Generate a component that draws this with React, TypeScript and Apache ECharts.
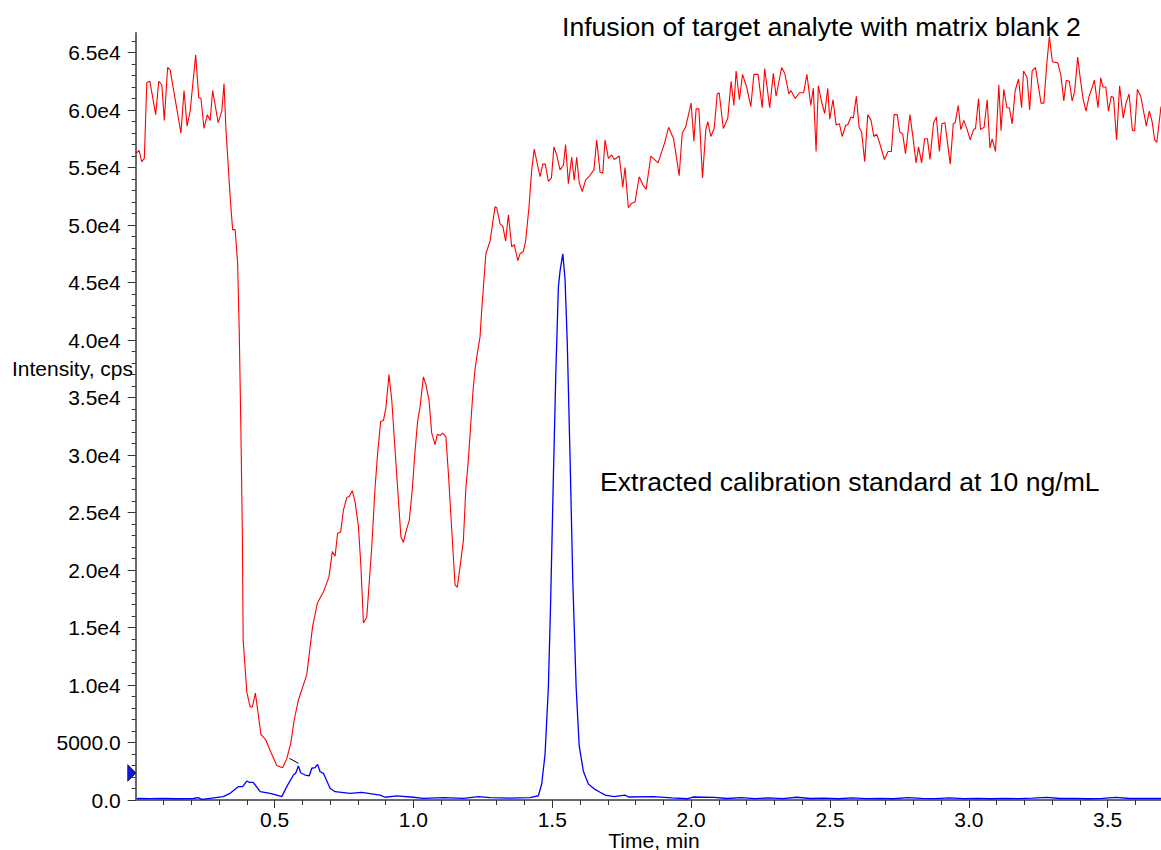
import React, { useEffect, useRef } from "react";
import * as echarts from "echarts";

// Red trace: infusion of target analyte with matrix blank 2 (time in min, intensity in cps)
const redTime = [
  0.001, 0.012, 0.022, 0.031, 0.040, 0.051, 0.072, 0.083, 0.094, 0.103, 0.115, 0.124, 0.163, 0.174, 0.185, 0.196,
  0.216, 0.227, 0.235, 0.246, 0.258, 0.268, 0.277, 0.297, 0.310, 0.318, 0.325, 0.340, 0.349, 0.358, 0.367, 0.373,
  0.379, 0.384, 0.387, 0.400, 0.412, 0.420, 0.431, 0.451, 0.469, 0.484, 0.508, 0.529, 0.544, 0.558, 0.571, 0.586,
  0.616, 0.628, 0.637, 0.654, 0.676, 0.696, 0.708, 0.718, 0.727, 0.738, 0.748, 0.760, 0.769, 0.780, 0.790, 0.802,
  0.811, 0.820, 0.832, 0.850, 0.862, 0.871, 0.882, 0.892, 0.901, 0.912, 0.922, 0.934, 0.946, 0.955, 0.964, 0.976,
  0.985, 0.996, 1.006, 1.015, 1.024, 1.036, 1.044, 1.056, 1.066, 1.078, 1.086, 1.096, 1.105, 1.117, 1.126, 1.138,
  1.150, 1.158, 1.168, 1.180, 1.189, 1.198, 1.206, 1.214, 1.222, 1.230, 1.240, 1.246, 1.252, 1.261, 1.276, 1.294,
  1.300, 1.312, 1.322, 1.332, 1.342, 1.354, 1.363, 1.376, 1.384, 1.396, 1.404, 1.416, 1.426, 1.435, 1.456, 1.466,
  1.475, 1.486, 1.497, 1.506, 1.516, 1.528, 1.540, 1.548, 1.558, 1.570, 1.579, 1.588, 1.597, 1.608, 1.620, 1.632,
  1.650, 1.660, 1.672, 1.682, 1.690, 1.702, 1.714, 1.723, 1.741, 1.754, 1.762, 1.774, 1.786, 1.798, 1.813, 1.826,
  1.838, 1.855, 1.881, 1.904, 1.919, 1.937, 1.957, 1.968, 1.980, 2.000, 2.010, 2.018, 2.028, 2.041, 2.053, 2.060,
  2.071, 2.083, 2.094, 2.101, 2.116, 2.132, 2.144, 2.154, 2.162, 2.174, 2.185, 2.200, 2.215, 2.226, 2.241, 2.256,
  2.265, 2.283, 2.296, 2.306, 2.326, 2.337, 2.352, 2.359, 2.375, 2.390, 2.405, 2.417, 2.431, 2.440, 2.450, 2.458,
  2.470, 2.481, 2.492, 2.499, 2.511, 2.522, 2.534, 2.544, 2.557, 2.564, 2.575, 2.584, 2.595, 2.605, 2.614, 2.625,
  2.636, 2.648, 2.658, 2.668, 2.678, 2.696, 2.709, 2.721, 2.731, 2.742, 2.751, 2.762, 2.772, 2.788, 2.800, 2.810,
  2.819, 2.830, 2.841, 2.851, 2.860, 2.873, 2.883, 2.894, 2.903, 2.914, 2.933, 2.944, 2.951, 2.962, 2.971, 2.982,
  2.994, 3.005, 3.017, 3.024, 3.035, 3.042, 3.055, 3.066, 3.076, 3.084, 3.096, 3.108, 3.116, 3.126, 3.137, 3.146,
  3.156, 3.167, 3.179, 3.190, 3.197, 3.210, 3.219, 3.228, 3.240, 3.260, 3.270, 3.281, 3.290, 3.301, 3.320, 3.331,
  3.342, 3.351, 3.362, 3.372, 3.381, 3.392, 3.402, 3.412, 3.422, 3.433, 3.442, 3.452, 3.465, 3.475, 3.483, 3.493,
  3.503, 3.513, 3.521, 3.532, 3.543, 3.556, 3.566, 3.577, 3.589, 3.597, 3.607, 3.619, 3.630, 3.639, 3.650, 3.660,
  3.669, 3.677, 3.692,
];
const redIntensity = [
  56200, 56500, 55500, 55800, 62400, 62500, 59600, 62500, 62200, 59100, 63700, 63500, 58000, 61700, 58600, 59900,
  64800, 61100, 61000, 58400, 59600, 59100, 61700, 58900, 59900, 62300, 58300, 52500, 49600, 49600, 46700, 40600,
  31900, 23200, 13900, 9400, 8100, 8100, 9300, 5700, 5200, 4300, 3000, 2800, 3600, 4900, 7000, 8700,
  10900, 13300, 15100, 17100, 18100, 19400, 21600, 21200, 23200, 23300, 25200, 26300, 26400, 26900, 25900, 23800,
  20300, 15400, 15900, 22000, 27200, 30100, 32900, 33000, 34100, 37000, 34800, 30400, 26100, 22900, 22400, 23600,
  24300, 27000, 30400, 32900, 34200, 36800, 36200, 34800, 31900, 30900, 31800, 31700, 31900, 31600, 28400, 23500,
  18700, 18500, 20300, 22600, 27200, 29600, 32500, 35400, 37500, 38800, 40300, 42600, 44600, 47500, 48600, 51600,
  51500, 50100, 49900, 48600, 50900, 48100, 48300, 46900, 47500, 47700, 48600, 51500, 54800, 56600, 54200, 55300,
  55300, 53800, 54100, 56800, 56100, 54800, 55200, 57000, 53600, 55900, 53900, 55900, 53700, 52900, 53900, 54200,
  54800, 57400, 54600, 54500, 57400, 55800, 56100, 55700, 56000, 53300, 55000, 51500, 51900, 52000, 54200, 53500,
  53100, 56000, 55400, 57100, 58500, 57500, 54300, 58000, 58500, 60600, 57300, 60100, 60100, 54100, 58300, 59000,
  57700, 58400, 61400, 61500, 58400, 59300, 62500, 60400, 63400, 60900, 63100, 62000, 60300, 63100, 63100, 60200,
  63600, 60200, 63200, 61200, 63700, 63200, 61400, 61700, 61000, 61500, 61500, 63100, 60400, 61900, 56400, 62100,
  60700, 59700, 61900, 59200, 60900, 58700, 58800, 57700, 58700, 58700, 59400, 59300, 61200, 58500, 58100, 55500,
  59600, 59100, 57700, 57900, 57200, 55700, 56400, 56400, 59600, 59600, 58100, 57900, 56200, 59600, 57400, 55400,
  56800, 55400, 57500, 57500, 55700, 58900, 59400, 56400, 58800, 58900, 55300, 58800, 58900, 60400, 58300, 59100,
  58300, 57400, 58300, 58400, 61000, 58300, 58500, 60900, 56700, 57500, 56400, 62200, 58200, 61800, 60200, 60200,
  58800, 61700, 62700, 60200, 63400, 62800, 60000, 63400, 63700, 60600, 60600, 64100, 66400, 64200, 64100, 63100,
  60800, 62600, 62500, 60800, 61600, 64600, 62600, 60900, 59900, 61200, 61800, 62600, 60200, 62800, 62000, 62000,
  59900, 61200, 61100, 57400, 62100, 59300, 60600, 61400, 58200, 58200, 61800, 61200, 59800, 58600, 59900, 59000,
  57400, 57200, 60300,
];

// Blue trace: extracted calibration standard at 10 ng/mL
const blueTime = [
  0.003, 0.010, 0.050, 0.099, 0.150, 0.207, 0.225, 0.238, 0.268, 0.315, 0.340, 0.369, 0.385, 0.400, 0.409, 0.423,
  0.448, 0.484, 0.508, 0.526, 0.544, 0.568, 0.576, 0.586, 0.594, 0.610, 0.625, 0.634, 0.646, 0.655, 0.664, 0.676,
  0.700, 0.718, 0.772, 0.814, 0.880, 0.898, 0.940, 1.000, 1.036, 1.108, 1.180, 1.234, 1.276, 1.348, 1.420, 1.450,
  1.462, 1.474, 1.486, 1.494, 1.504, 1.513, 1.522, 1.528, 1.538, 1.546, 1.554, 1.564, 1.574, 1.586, 1.597, 1.612,
  1.630, 1.654, 1.672, 1.691, 1.723, 1.762, 1.775, 1.865, 1.930, 1.988, 2.007, 2.084, 2.130, 2.180, 2.230, 2.280,
  2.330, 2.380, 2.430, 2.480, 2.530, 2.580, 2.630, 2.680, 2.730, 2.780, 2.830, 2.880, 2.930, 2.980, 3.030, 3.080,
  3.130, 3.180, 3.230, 3.280, 3.330, 3.380, 3.430, 3.480, 3.530, 3.580, 3.630, 3.692,
];
const blueIntensity = [
  100, 150, 120, 130, 110, 130, 200, 60, 150, 290, 580, 1160, 1160, 1650, 1540, 1540,
  720, 580, 430, 290, 1160, 2170, 2320, 2960, 2370, 2170, 2110, 2760, 2810, 3100, 2460, 2320,
  1020, 720, 580, 670, 430, 240, 350, 240, 150, 200, 150, 290, 200, 170, 200, 370,
  1390, 3960, 9810, 17100, 28100, 37300, 44600, 46000, 47500, 45300, 39800, 29900, 19000, 9800, 4700, 2500,
  1390, 920, 670, 430, 290, 430, 260, 290, 180, 110, 260, 230, 130, 200, 120, 180,
  120, 240, 130, 160, 110, 180, 120, 150, 110, 200, 140, 120, 180, 120, 150, 110,
  140, 120, 160, 230, 130, 140, 110, 150, 220, 130, 140, 130,
];

// Short black annotation stroke near 0.55 min
const markTime = [0.553, 0.586];
const markIntensity = [3630, 3190];

// Axis ticks
const xMin = 0;
const xMax = 3.692;
const yMin = 0;
const yMax = 66700;
const xMajorTicks = [0.5, 1.0, 1.5, 2.0, 2.5, 3.0, 3.5];
const xMinorTicks = [
  0.1, 0.2, 0.3, 0.4, 0.6, 0.7, 0.8, 0.9, 1.1, 1.2, 1.3, 1.4, 1.6, 1.7, 1.8, 1.9, 2.1, 2.2, 2.3, 2.4, 2.6, 2.7, 2.8,
  2.9, 3.1, 3.2, 3.3, 3.4, 3.6,
];
const yMajorTicks = [0, 5000, 10000, 15000, 20000, 25000, 30000, 35000, 40000, 45000, 50000, 55000, 60000, 65000];
const yMinorTicks: number[] = [];
for (let k = 1000; k <= 66000; k += 1000) if (k % 5000 !== 0) yMinorTicks.push(k);

const titleText = "Infusion of target analyte with matrix blank 2";
const peakText = "Extracted calibration standard at 10 ng/mL";
const yName = "Intensity, cps";
const xName = "Time, min";

const FONT = '"Liberation Sans", Arial, Helvetica, sans-serif';

function fmtY(v: number): string {
  if (v === 0) return "0.0";
  if (v < 10000) return v.toFixed(1);
  return (v / 10000).toFixed(1) + "e4";
}

export default function App() {
  const ref = useRef<HTMLDivElement>(null);
  useEffect(() => {
    if (!ref.current) return;
    const chart = echarts.init(ref.current, undefined, { renderer: "svg" });
    const red = redTime.map((t, i) => [t, redIntensity[i]]);
    const blue = blueTime.map((t, i) => [t, blueIntensity[i]]);
    const mark = markTime.map((t, i) => [t, markIntensity[i]]);
    const axisColor = "#6a6a6a";
    const tickColor = "#333";
    chart.setOption({
      animation: false,
      backgroundColor: "#ffffff",
      grid: { left: 135.7, right: 0, top: 33, bottom: 50, containLabel: false },
      xAxis: [
        {
          type: "value",
          min: xMin,
          max: xMax,
          position: "bottom",
          axisLine: { show: true, onZero: false, lineStyle: { color: axisColor, width: 2 } },
          axisTick: { show: true, customValues: xMajorTicks, length: 8, lineStyle: { color: tickColor, width: 1 } },
          axisLabel: {
            customValues: xMajorTicks,
            formatter: (v: number) => v.toFixed(1),
            fontSize: 21,
            fontFamily: FONT,
            color: "#000",
            margin: 9,
          },
          splitLine: { show: false },
        },
        {
          type: "value",
          min: xMin,
          max: xMax,
          position: "bottom",
          axisLine: { show: false, onZero: false },
          axisTick: { show: true, customValues: xMinorTicks, length: 5, lineStyle: { color: tickColor, width: 1 } },
          axisLabel: { show: false },
          splitLine: { show: false },
        },
      ],
      yAxis: [
        {
          type: "value",
          min: yMin,
          max: yMax,
          position: "left",
          axisLine: { show: true, onZero: false, lineStyle: { color: axisColor, width: 2 } },
          axisTick: { show: true, customValues: yMajorTicks, length: 8, lineStyle: { color: tickColor, width: 1 } },
          axisLabel: {
            customValues: yMajorTicks,
            formatter: (v: number) => fmtY(v),
            fontSize: 21,
            fontFamily: FONT,
            color: "#000",
            margin: 15,
          },
          splitLine: { show: false },
        },
        {
          type: "value",
          min: yMin,
          max: yMax,
          position: "left",
          axisLine: { show: false, onZero: false },
          axisTick: { show: true, customValues: yMinorTicks, length: 4, lineStyle: { color: tickColor, width: 1 } },
          axisLabel: { show: false },
          splitLine: { show: false },
        },
      ],
      series: [
        {
          name: "Extracted calibration standard",
          type: "line",
          xAxisIndex: 0,
          yAxisIndex: 0,
          data: blue,
          showSymbol: false,
          symbol: "none",
          lineStyle: { color: "#0000ff", width: 1.3 },
          itemStyle: { color: "#0000ff" },
          z: 2,
          markPoint: {
            silent: true,
            symbol: "triangle",
            symbolSize: [16, 8],
            symbolRotate: -90,
            symbolOffset: [-4, 0],
            itemStyle: { color: "#1515e6", borderColor: "#111", borderWidth: 0.8 },
            label: { show: false },
            data: [{ coord: [0, 2350] }],
          },
        },
        {
          name: "Infusion",
          type: "line",
          xAxisIndex: 0,
          yAxisIndex: 0,
          data: red,
          showSymbol: false,
          symbol: "none",
          lineStyle: { color: "#ff0000", width: 1.1 },
          itemStyle: { color: "#ff0000" },
          z: 3,
        },
        {
          name: "mark",
          type: "line",
          xAxisIndex: 0,
          yAxisIndex: 0,
          data: mark,
          showSymbol: false,
          symbol: "none",
          lineStyle: { color: "#000", width: 1 },
          z: 4,
        },
      ],
      graphic: [
        {
          type: "text",
          x: 562,
          y: 27,
          style: { text: titleText, font: `26.6px ${FONT}`, fill: "#000", align: "left", verticalAlign: "middle" },
        },
        {
          type: "text",
          x: 600,
          y: 482,
          style: { text: peakText, font: `26.6px ${FONT}`, fill: "#000", align: "left", verticalAlign: "middle" },
        },
        {
          type: "text",
          x: 133,
          y: 368,
          style: { text: yName, font: `21px ${FONT}`, fill: "#000", align: "right", verticalAlign: "middle" },
        },
        {
          type: "text",
          x: 654,
          y: 840,
          style: { text: xName, font: `21px ${FONT}`, fill: "#000", align: "center", verticalAlign: "middle" },
        },
      ],
    });
    return () => chart.dispose();
  }, []);
  return (
    <div
      ref={ref}
      style={{ position: "fixed", left: 0, top: 0, width: 1161, height: 850, background: "#fff" }}
    />
  );
}
